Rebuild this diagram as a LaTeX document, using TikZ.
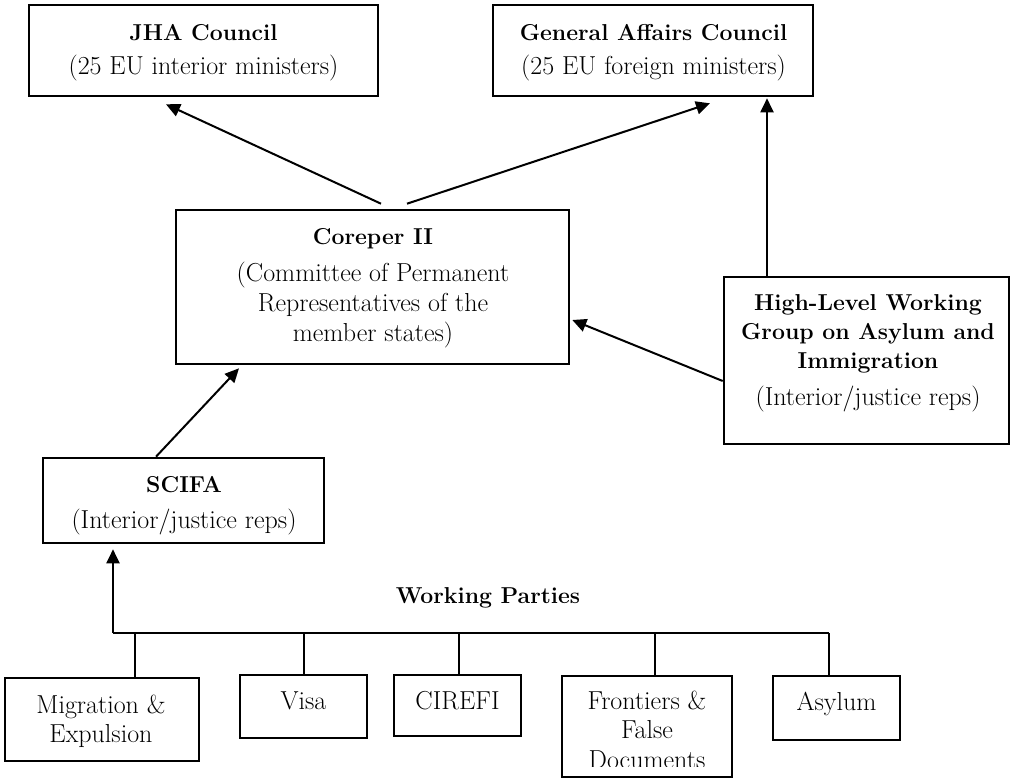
\documentclass[tikz,border=0pt]{standalone}
\usepackage{fontspec}
\usetikzlibrary{arrows.meta,calc}
\tikzset{
  box/.style={draw, line width=2.6pt, inner sep=0pt, rectangle},
  txt/.style={anchor=base, align=center, inner sep=0pt, font=\fontsize{26}{30}\selectfont},
  btxt/.style={anchor=base, align=center, inner sep=0pt, font=\fontsize{23}{29}\selectfont\bfseries},
  arr/.style={line width=2pt, -{Triangle[length=14pt,width=13pt]}},
  ln/.style={line width=2.6pt}
}
\begin{document}
\begin{tikzpicture}[x=1pt,y=-1pt]
\useasboundingbox (0,0) rectangle (1011,779);
% boxes
\node[box, minimum width=349pt, minimum height=91pt] (jha) at (203.5,50.5) {};
\node[box, minimum width=320pt, minimum height=91pt] (gac) at (653,50.5) {};
\node[box, minimum width=393pt, minimum height=154pt] (cor) at (372.5,287) {};
\node[box, minimum width=285pt, minimum height=167pt] (hl) at (866.5,360.5) {};
\node[box, minimum width=281pt, minimum height=85pt] (scifa) at (183.5,500.5) {};
\node[box, minimum width=194pt, minimum height=83pt] (mig) at (102,719.5) {};
\node[box, minimum width=127pt, minimum height=63pt] (visa) at (303.5,706.5) {};
\node[box, minimum width=127pt, minimum height=61pt] (cirefi) at (457.5,705.5) {};
\node[box, minimum width=170pt, minimum height=101pt] (front) at (647,726.5) {};
\node[box, minimum width=127pt, minimum height=64pt] (asyl) at (836.5,708) {};
% texts
\node[btxt] (jhat) at (203.5,40) {JHA Council};
\node[txt] (jhas) at (203.5,74) {(25 EU interior ministers)};
\node[btxt] (gact) at (653.5,40) {General Affairs Council};
\node[txt] (gacs) at (653.5,74) {(25 EU foreign ministers)};
\node[btxt] (cort) at (373,244) {Coreper II};
\node[txt] (cors) at (373,341) {(Committee of Permanent\\Representatives of the\\member states)};
\node[btxt] (hlt) at (868,368) {High-Level Working\\Group on Asylum and\\Immigration};
\node[txt] (hls) at (868,405) {(Interior/justice reps)};
\node[btxt] (scifat) at (184,492) {SCIFA};
\node[txt] (scifas) at (184,528) {(Interior/justice reps)};
\node[txt, font=\fontsize{26}{29}\selectfont] (migt) at (101,742) {Migration \&\\Expulsion};
\node[txt] (visat) at (303.5,709) {Visa};
\node[txt] (cirefit) at (457.5,709) {CIREFI};
\begin{scope}
\clip (562,676) rectangle (732,766);
\node[txt, font=\fontsize{26}{29.5}\selectfont] (frontt) at (647,768) {Frontiers \&\\False\\Documents};
\end{scope}
\node[txt] (asylt) at (836.5,710) {Asylum};
\node[btxt] (wp) at (488,603) {Working Parties};
% connectors
\draw[arr] ($(cor.north)+(8.5,-5)$) -- ($(jha.south)+(-37.5,7)$);
\draw[arr] ($(cor.north)+(34.5,-5)$) -- ($(gac.south)+(57,6)$);
\draw[arr] ($(hl.north)+(-99.5,0)$) -- ($(gac.south)+(114,1)$);
\draw[arr] ($(hl.west)+(0,20.5)$) -- ($(cor.east)+(2,33)$);
\draw[arr] ($(scifa.north)+(-27.5,0)$) -- ($(cor.south)+(-133.5,3)$);
\coordinate (barL) at (113,633);
\coordinate (barR) at (829,633);
\coordinate (dmig) at (135,633);
\coordinate (dvisa) at (304,633);
\coordinate (dcir) at (459,633);
\coordinate (dfront) at (655,633);
\draw[ln] (barL) -- (barR);
\draw[arr] (barL) -- ($(scifa.south)+(-70.5,5)$);
\draw[ln] (mig.north -| dmig) -- (dmig);
\draw[ln] (visa.north -| dvisa) -- (dvisa);
\draw[ln] (cirefi.north -| dcir) -- (dcir);
\draw[ln] (front.north -| dfront) -- (dfront);
\draw[ln] (asyl.north -| barR) -- (barR);
\end{tikzpicture}
\end{document}
